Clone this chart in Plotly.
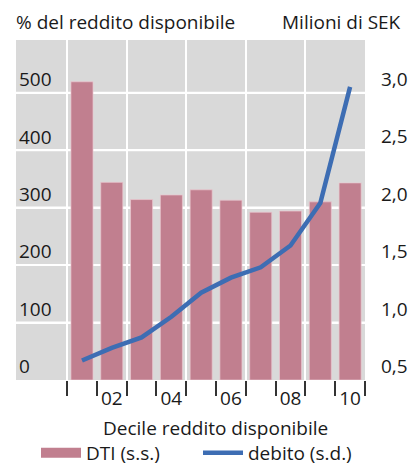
import plotly.graph_objects as go

deciles = [1, 2, 3, 4, 5, 6, 7, 8, 9, 10]
dti = [519, 344, 314, 322, 331, 313, 292, 294, 310, 343]
debito = [0.67, 0.78, 0.87, 1.05, 1.26, 1.39, 1.48, 1.67, 2.04, 3.05]
x_tickvals = [2, 4, 6, 8, 10]
x_ticktext = ["02", "04", "06", "08", "10"]
y_left_ticks = [0, 100, 200, 300, 400, 500]
y_right_ticks = [0.5, 1.0, 1.5, 2.0, 2.5, 3.0]
y_right_text = ["0,5", "1,0", "1,5", "2,0", "2,5", "3,0"]
grid_x = [0.5, 2.5, 4.5, 6.5, 8.5, 10.5]
mid_x = [1.5, 3.5, 5.5, 7.5, 9.5]

FONT = "Open Sans"
FS = 19
TXT = "#1a1a1a"
BAR_C = "#C17F8F"
LINE_C = "#3D6DB3"

W, H = 409, 466
L, R, T, B = 16, 44, 40, 86
pw = W - L - R
ph = H - T - B

def px_x(px):
    return (px - L) / pw

def px_y(py):
    return (H - B - py) / ph

fig = go.Figure()
fig.add_trace(go.Bar(
    x=deciles, y=dti, name="DTI (s.s.)", showlegend=False,
    marker=dict(color=BAR_C, line=dict(color="rgba(235,200,208,0.7)", width=1)),
    width=0.74, xaxis="x", yaxis="y",
))
fig.add_trace(go.Scatter(
    x=deciles, y=debito, name="debito (s.d.)", mode="lines", showlegend=False,
    line=dict(color=LINE_C, width=4.5), xaxis="x2", yaxis="y2",
))
# legend-only entries (draw nothing)
fig.add_trace(go.Scatter(x=[None], y=[None], name="DTI (s.s.)", mode="lines",
                         line=dict(color=BAR_C, width=15), xaxis="x", yaxis="y"))
fig.add_trace(go.Scatter(x=[None], y=[None], name="debito (s.d.)", mode="lines",
                         line=dict(color=LINE_C, width=4.5), xaxis="x", yaxis="y"))

# horizontal gridlines at the left-axis tick values (drawn beneath the traces)
for v in y_left_ticks[1:]:
    fig.add_shape(type="line", xref="paper", yref="y", x0=0, x1=1, y0=v, y1=v,
                  line=dict(color="white", width=2), layer="below")

xr = [-1.215, 10.5]
yr = [0, 591.7]
fig.update_layout(
    width=W, height=H,
    margin=dict(l=L, r=R, t=T, b=B, pad=0, autoexpand=False),
    paper_bgcolor="white", plot_bgcolor="#D9D9D9",
    font=dict(family=FONT, size=FS, color=TXT),
    showlegend=True,
    legend=dict(orientation="h", x=px_x(36), xanchor="left", y=px_y(453), yanchor="middle",
                font=dict(size=FS, family=FONT, color=TXT), itemwidth=40,
                entrywidth=107,
                bgcolor="rgba(0,0,0,0)", traceorder="normal", tracegroupgap=0),
    xaxis=dict(range=xr, tickvals=grid_x, showticklabels=False, showgrid=True,
               gridcolor="white", gridwidth=2,
               zeroline=False, showline=False, ticks="outside", ticklen=15, tickwidth=1.5,
               tickcolor="#333333", anchor="y",
               minor=dict(tickvals=mid_x, ticks="outside", ticklen=15, tickwidth=1.5,
                          tickcolor="#333333", showgrid=False)),
    xaxis2=dict(range=xr, overlaying="x", tickvals=x_tickvals, ticktext=x_ticktext,
                showgrid=False, ticks="", zeroline=False, showline=False,
                anchor="y2", side="bottom", ticklabelstandoff=5,
                tickfont=dict(size=FS, family=FONT, color=TXT)),
    yaxis=dict(range=yr, tickvals=y_left_ticks, showgrid=True,
               gridcolor="white", gridwidth=2, zeroline=False, showline=False, ticks="",
               ticklabelposition="inside top", anchor="x",
               tickfont=dict(size=FS, family=FONT, color=TXT)),
    yaxis2=dict(range=[0.5, 3.458], overlaying="y", side="right", anchor="x2",
                tickvals=y_right_ticks, ticktext=y_right_text, showgrid=False,
                zeroline=False, showline=False, ticks="", ticklabelposition="outside top",
                ticklabelstandoff=15, tickfont=dict(size=FS, family=FONT, color=TXT)),
    annotations=[
        dict(text="% del reddito disponibile", xref="paper", yref="paper",
             x=px_x(14), y=px_y(22), xanchor="left", yanchor="middle", showarrow=False,
             font=dict(size=FS, family=FONT, color=TXT)),
        dict(text="Milioni di SEK", xref="paper", yref="paper",
             x=px_x(403), y=px_y(22), xanchor="right", yanchor="middle", showarrow=False,
             font=dict(size=FS, family=FONT, color=TXT)),
        dict(text="Decile reddito disponibile", xref="paper", yref="paper",
             x=px_x(215), y=px_y(428), xanchor="center", yanchor="middle", showarrow=False,
             font=dict(size=FS, family=FONT, color=TXT)),
    ],
)

fig.write_html("out.html")
